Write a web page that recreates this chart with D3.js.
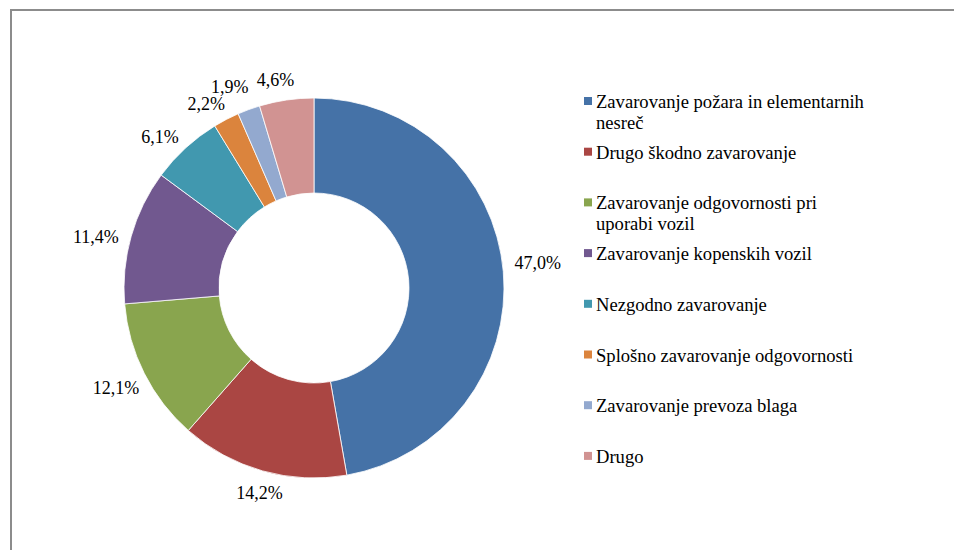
<!DOCTYPE html>
<html><head><meta charset="utf-8">
<script src="https://cdn.jsdelivr.net/npm/d3@7"></script>
<style>body{margin:0;background:#fff}svg{display:block}</style>
</head><body>
<svg id="c" width="954" height="550"></svg>
<script>
const categories = ["Zavarovanje požara in elementarnih nesreč","Drugo škodno zavarovanje","Zavarovanje odgovornosti pri uporabi vozil","Zavarovanje kopenskih vozil","Nezgodno zavarovanje","Splošno zavarovanje odgovornosti","Zavarovanje prevoza blaga","Drugo"];
const legendLines = [["Zavarovanje požara in elementarnih","nesreč"],["Drugo škodno zavarovanje"],["Zavarovanje odgovornosti pri","uporabi vozil"],["Zavarovanje kopenskih vozil"],["Nezgodno zavarovanje"],["Splošno zavarovanje odgovornosti"],["Zavarovanje prevoza blaga"],["Drugo"]];
const values = [47.0,14.2,12.1,11.4,6.1,2.2,1.9,4.6];
const labels = ["47,0%","14,2%","12,1%","11,4%","6,1%","2,2%","1,9%","4,6%"];
const colors = ["#4572A7","#AA4643","#89A54E","#71588F","#4198AF","#DB843D","#93A9CF","#D19392"];

const FONT = "Liberation Serif";
const svg = d3.select("#c");
svg.append("path").attr("d","M11,550 V10 H954").attr("fill","none").attr("stroke","#8c8c8c").attr("stroke-width",2);

const cx = 314, cy = 288, R = 190, r0 = 95;
const g = svg.append("g").attr("transform",`translate(${cx},${cy})`);
const pie = d3.pie().sort(null).value(d=>d);
const arcs = pie(values);
const arc = d3.arc().innerRadius(r0).outerRadius(R);
g.selectAll("path.s").data(arcs).enter().append("path").attr("class","s")
  .attr("d",arc).attr("fill",(d,i)=>colors[i]).attr("stroke","#fff").attr("stroke-width",0.8);

const fs = 18;
const placed = [];
g.selectAll("text.l").data(arcs).enter().append("text").attr("class","l")
  .attr("font-family",FONT).attr("font-size",fs).attr("text-anchor","middle")
  .attr("dominant-baseline","central").attr("fill","#000")
  .text((d,i)=>labels[i])
  .each(function(d){
    const a = (d.startAngle+d.endAngle)/2 - 0.03;
    const w = this.getComputedTextLength(), h = fs;
    let rr = R+12, x, y;
    const pos = ()=>{ x = rr*Math.sin(a) + w/2*Math.sin(a); y = -rr*Math.cos(a) - h/2*Math.cos(a); };
    pos();
    const hit = ()=>placed.some(p=>Math.abs(p.x-x)<(p.w+w)/2 && Math.abs(p.y-y)<h-1);
    let n=0; while(hit() && n<100){ rr+=1; pos(); n++; }
    placed.push({x,y,w});
    d3.select(this).attr("x",x).attr("y",y);
  });

const lx = 584, ly0 = 101, step = 50.7, lfs = 18.6;
const lg = svg.append("g");
legendLines.forEach((lines,i)=>{
  const y = ly0 + i*step;
  lg.append("rect").attr("x",lx).attr("y",y-4).attr("width",8).attr("height",8).attr("fill",colors[i]);
  const t = lg.append("text").attr("x",lx+12).attr("y",y).attr("font-family",FONT).attr("font-size",lfs)
    .attr("dominant-baseline","central").attr("fill","#000");
  lines.forEach((ln,j)=>t.append("tspan").attr("x",lx+12).attr("dy",j===0?0:20.5).text(ln));
});
</script>
</body></html>
